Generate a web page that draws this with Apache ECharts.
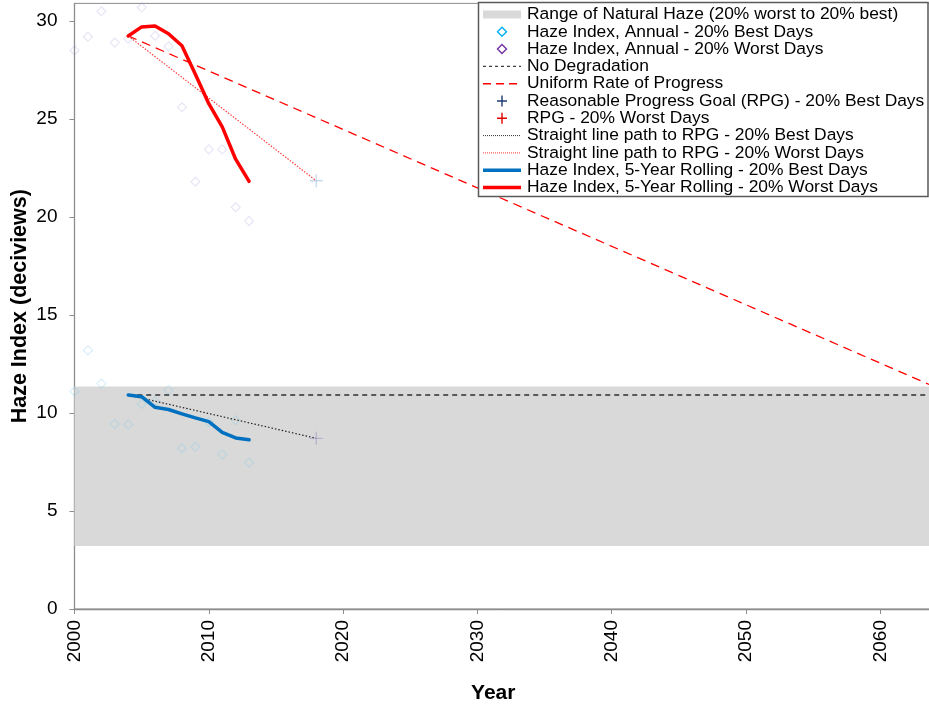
<!DOCTYPE html>
<html>
<head>
<meta charset="utf-8">
<script src="https://cdn.jsdelivr.net/npm/echarts@6/dist/echarts.min.js"></script>
<style>
  html, body { margin: 0; padding: 0; background: #fff; }
  #chart { width: 929px; height: 709px; }
</style>
</head>
<body>
<div id="chart"></div>
<script>
// Annual haze index, 20% best / worst days (deciviews)
const annualYears = [2000, 2001, 2002, 2003, 2004, 2005, 2006, 2007, 2008, 2009, 2010, 2011, 2012, 2013];
const annualBest  = [11.1, 13.2, 11.5, 9.44, 9.42, 10.46, 10.6, 11.17, 8.2, 8.28, 9.55, 7.89, 9.64, 7.47];
const annualWorst = [28.5, 29.2, 30.5, 28.9, 29.1, 30.7, 29.25, 28.7, 25.6, 21.8, 23.45, 23.45, 20.5, 19.8];

// 5-year rolling averages
const rollingYears = [2004, 2005, 2006, 2007, 2008, 2009, 2010, 2011, 2012, 2013];
const rollingBest  = [10.92, 10.83, 10.29, 10.18, 9.96, 9.75, 9.56, 9.01, 8.73, 8.64];
const rollingWorst = [29.24, 29.70, 29.75, 29.35, 28.74, 27.28, 25.78, 24.60, 22.95, 21.82];

// Goals and reference paths
const baselineYear = 2004;
const rpgYear = 2018;
const rpgBest = 8.71;
const rpgWorst = 21.85;
const endYear = 2064;
const naturalBest = 3.21;
const naturalWorst = 11.35;
const noDegradation = 10.92;
const urpStart = 29.24;

// Axis ticks
const xTicks = [2000, 2010, 2020, 2030, 2040, 2050, 2060];
const yTicks = [0, 5, 10, 15, 20, 25, 30];

const legendNames = [
  'Range of Natural Haze (20% worst to 20% best)',
  'Haze Index, Annual - 20% Best Days',
  'Haze Index, Annual - 20% Worst Days',
  'No Degradation',
  'Uniform Rate of Progress',
  'Reasonable Progress Goal (RPG) - 20% Best Days',
  'RPG - 20% Worst Days',
  'Straight line path to RPG - 20% Best Days',
  'Straight line path to RPG - 20% Worst Days',
  'Haze Index, 5-Year Rolling - 20% Best Days',
  'Haze Index, 5-Year Rolling - 20% Worst Days'
];

const FONT = '"Liberation Sans", Arial, Helvetica, sans-serif';
const PLUS = 'path://M4.5,0h1v4.5h4.5v1h-4.5v4.5h-1v-4.5h-4.5v-1h4.5z';

const zip = (xs, ys) => xs.map((x, i) => [x, ys[i]]);

// ---- legend box built from graphic elements ----
const legendLeft = 478.5, legendTop = 2.5;
const rowY0 = 14.5, rowPitch = 17.3;
const iconL = 483, iconR = 521, iconC = 502, textX = 527;

function lineIcon(y, color, width, dash) {
  return { type: 'line', z: 101, shape: { x1: iconL, y1: y, x2: iconR, y2: y },
           style: { stroke: color, lineWidth: width, lineDash: dash || null }, silent: true };
}
function diamondIcon(y, color) {
  return { type: 'polygon', z: 101, shape: { points: [[iconC, y - 4.5], [iconC + 4.5, y], [iconC, y + 4.5], [iconC - 4.5, y]] },
           style: { fill: 'none', stroke: color, lineWidth: 1.4 }, silent: true };
}
function plusIcon(y, color) {
  return { type: 'polyline', z: 101, silent: true,
           shape: { points: [[iconC - 5, y], [iconC + 5, y], [iconC, y], [iconC, y - 5.5], [iconC, y + 5.5]] },
           style: { fill: 'none', stroke: color, lineWidth: 1.4 } };
}

const legendIcons = [
  y => ({ type: 'rect', z: 101, shape: { x: iconL, y: y - 4, width: iconR - iconL, height: 8 }, style: { fill: '#d9d9d9' }, silent: true }),
  y => diamondIcon(y, '#00b0f0'),
  y => diamondIcon(y, '#7030a0'),
  y => lineIcon(y, '#404040', 1.2, [3, 3]),
  y => lineIcon(y, '#ff0000', 1.5, [8, 5]),
  y => plusIcon(y, '#1f3b73'),
  y => plusIcon(y, '#e00000'),
  y => lineIcon(y, '#333333', 1, [1, 1]),
  y => lineIcon(y, '#ff3030', 1, [1, 1]),
  y => lineIcon(y, '#0070c0', 3.5),
  y => lineIcon(y, '#ff0000', 3.5)
];

const legendGraphic = [{
  type: 'rect', z: 100, silent: true,
  shape: { x: legendLeft, y: legendTop, width: 928 - legendLeft, height: 196.5 - legendTop },
  style: { fill: '#ffffff', stroke: '#5a5a5a', lineWidth: 1.5 }
}];
legendNames.forEach((name, i) => {
  const y = rowY0 + i * rowPitch;
  legendGraphic.push(legendIcons[i](y));
  legendGraphic.push({
    type: 'text', z: 101, silent: true, x: textX, y: y,
    style: { text: name, fill: '#000', font: '17.4px ' + FONT, textVerticalAlign: 'middle', textBaseline: 'middle' }
  });
});

const chart = echarts.init(document.getElementById('chart'), null, { renderer: 'canvas' });

const option = {
  animation: false,
  backgroundColor: '#ffffff',
  grid: {
    left: 74.5, right: -5, top: 3.4, bottom: 100,
    outerBoundsMode: 'none', containLabel: false,
    show: true, borderColor: '#8c8c8c', borderWidth: 1, backgroundColor: 'transparent'
  },
  xAxis: {
    type: 'value', min: 2000, max: endYear,
    name: 'Year', nameLocation: 'middle', nameGap: 74, nameMoveOverlap: false,
    nameTextStyle: { fontFamily: FONT, fontSize: 21, fontWeight: 'bold', color: '#000', padding: [0, 22, 0, 0] },
    axisLine: { show: true, lineStyle: { color: '#8c8c8c', width: 1.3 } },
    axisTick: { show: true, length: 5, inside: false, customValues: xTicks, lineStyle: { color: '#8c8c8c' } },
    axisLabel: { customValues: xTicks, formatter: v => String(v), rotate: 90, margin: 11,
                 fontFamily: FONT, fontSize: 19, color: '#000' },
    splitLine: { show: false }
  },
  yAxis: {
    type: 'value', min: 0, max: 30.9,
    name: 'Haze Index (deciviews)', nameLocation: 'middle', nameGap: 43, nameRotate: 90,
    nameMoveOverlap: false,
    nameTextStyle: { fontFamily: FONT, fontSize: 21.5, fontWeight: 'bold', color: '#000' },
    axisLine: { show: true, lineStyle: { color: '#8c8c8c', width: 1.3 } },
    axisTick: { show: true, length: 5, inside: false, customValues: yTicks, lineStyle: { color: '#8c8c8c' } },
    axisLabel: { customValues: yTicks, margin: 17, fontFamily: FONT, fontSize: 19, color: '#000' },
    splitLine: { show: false }
  },
  graphic: legendGraphic,
  series: [
    {
      name: legendNames[0], type: 'line', data: [], z: 0, silent: true,
      markArea: {
        silent: true,
        itemStyle: { color: '#d9d9d9' },
        data: [[{ yAxis: naturalBest }, { yAxis: naturalWorst }]]
      }
    },
    {
      name: legendNames[1], type: 'scatter', z: 3, silent: true,
      data: zip(annualYears, annualBest),
      symbol: 'diamond', symbolSize: 9,
      itemStyle: { color: 'rgba(0,0,0,0)', borderColor: 'rgba(120,200,235,0.35)', borderWidth: 1.2 }
    },
    {
      name: legendNames[2], type: 'scatter', z: 3, silent: true,
      data: zip(annualYears, annualWorst),
      symbol: 'diamond', symbolSize: 9,
      itemStyle: { color: 'rgba(0,0,0,0)', borderColor: 'rgba(150,140,210,0.28)', borderWidth: 1.2 }
    },
    {
      name: legendNames[3], type: 'line', z: 4, silent: true, symbol: 'none',
      data: [[baselineYear, noDegradation], [endYear, noDegradation]],
      lineStyle: { color: '#595959', width: 2, type: [5, 4] }
    },
    {
      name: legendNames[4], type: 'line', z: 4, silent: true, symbol: 'none',
      data: [[baselineYear, urpStart], [endYear, naturalWorst]],
      lineStyle: { color: '#ff0000', width: 1.3, type: [9, 6] }
    },
    {
      name: legendNames[7], type: 'line', z: 5, silent: true, symbol: 'none',
      data: [[baselineYear, rollingBest[0]], [rpgYear, rpgBest]],
      lineStyle: { color: '#222222', width: 1.2, type: [1.5, 2] }
    },
    {
      name: legendNames[8], type: 'line', z: 5, silent: true, symbol: 'none',
      data: [[baselineYear, rollingWorst[0]], [rpgYear, rpgWorst]],
      lineStyle: { color: '#ff4040', width: 1.2, type: [1.5, 1.5] }
    },
    {
      name: legendNames[5], type: 'scatter', z: 6, silent: true,
      data: [[rpgYear, rpgBest]],
      symbol: PLUS, symbolSize: 13,
      itemStyle: { color: 'rgba(140,130,190,0.55)' }
    },
    {
      name: legendNames[6], type: 'scatter', z: 6, silent: true,
      data: [[rpgYear, rpgWorst]],
      symbol: PLUS, symbolSize: 13,
      itemStyle: { color: 'rgba(130,170,210,0.55)' }
    },
    {
      name: legendNames[9], type: 'line', z: 7, silent: true, symbol: 'none',
      data: zip(rollingYears, rollingBest),
      lineStyle: { color: '#0070c0', width: 3.5, cap: 'round', join: 'round' }
    },
    {
      name: legendNames[10], type: 'line', z: 7, silent: true, symbol: 'none',
      data: zip(rollingYears, rollingWorst),
      lineStyle: { color: '#ff0000', width: 3.5, cap: 'round', join: 'round' }
    }
  ]
};

chart.setOption(option);
</script>
</body>
</html>
